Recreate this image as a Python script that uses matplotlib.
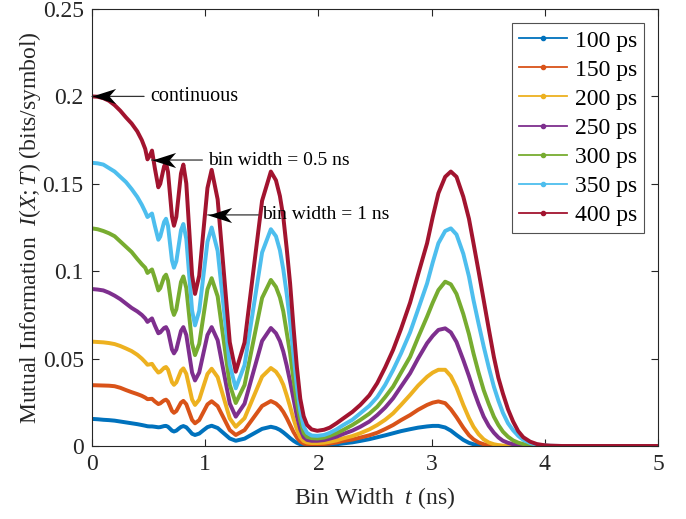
import matplotlib
matplotlib.use("Agg")
import matplotlib.pyplot as plt
from matplotlib.lines import Line2D
from matplotlib.path import Path

# ---------------- data ----------------
t_ns = [0.00, 0.05, 0.10, 0.15, 0.20, 0.25, 0.30, 0.35, 0.40, 0.44, 0.47, 0.49, 0.51, 0.53, 0.555, 0.586,
        0.603, 0.620, 0.637, 0.654, 0.6715, 0.689, 0.7065, 0.724, 0.745, 0.7655, 0.786, 0.807, 0.833, 0.8585, 0.884, 0.91,
        0.947, 0.9835, 1.02, 1.057, 1.11, 1.1635, 1.217, 1.27, 1.3475, 1.425, 1.5025, 1.58,
        1.625, 1.66, 1.69, 1.72, 1.75, 1.78, 1.81, 1.84, 1.87, 1.90, 1.94, 1.99,
        2.05, 2.10, 2.16, 2.22, 2.30, 2.37, 2.45, 2.52, 2.59, 2.66, 2.73, 2.81, 2.88, 2.96, 3.01, 3.06, 3.12, 3.17,
        3.22, 3.28, 3.33, 3.37, 3.415, 3.46, 3.505, 3.55, 3.59, 3.63, 3.675, 3.72, 3.765, 3.81, 3.87, 3.93, 4.00, 4.05, 4.15, 5.00]

mi_400ps = [0.200, 0.1998, 0.199, 0.1975, 0.195, 0.1918, 0.188, 0.1845, 0.180, 0.175, 0.170, 0.164, 0.166, 0.169, 0.159, 0.148,
            0.150, 0.155, 0.160, 0.162, 0.1567, 0.144, 0.1313, 0.126, 0.1311, 0.1435, 0.1559, 0.161, 0.1502, 0.124, 0.0978, 0.087,
            0.0974, 0.1225, 0.1476, 0.158, 0.1411, 0.1003, 0.0594, 0.0425, 0.0592, 0.0998, 0.1403, 0.157,
            0.152, 0.143, 0.131, 0.113, 0.093, 0.068, 0.045, 0.027, 0.017, 0.012, 0.0095, 0.0087,
            0.0093, 0.0105, 0.013, 0.0158, 0.0195, 0.0235, 0.029, 0.036, 0.045, 0.055, 0.067, 0.082, 0.098, 0.116, 0.131, 0.1446, 0.154, 0.157,
            0.154, 0.1426, 0.130, 0.116, 0.100, 0.0835, 0.067, 0.051, 0.039, 0.030, 0.021, 0.014, 0.0085, 0.005, 0.0025, 0.0011, 0.0004, 0.0002, 0.0, 0.0]

mi_350ps = [0.162, 0.1617, 0.161, 0.159, 0.157, 0.154, 0.151, 0.147, 0.1425, 0.138, 0.134, 0.131, 0.132, 0.133, 0.126, 0.118,
            0.1198, 0.124, 0.1282, 0.130, 0.1259, 0.116, 0.1061, 0.102, 0.1057, 0.1145, 0.1234, 0.127, 0.1185, 0.098, 0.0775, 0.069,
            0.0772, 0.097, 0.1168, 0.125, 0.1116, 0.079, 0.0464, 0.033, 0.0463, 0.0785, 0.1107, 0.124,
            0.120, 0.112, 0.101, 0.087, 0.071, 0.052, 0.034, 0.020, 0.011, 0.0075, 0.006, 0.0058,
            0.0063, 0.0075, 0.0095, 0.012, 0.015, 0.0187, 0.023, 0.028, 0.035, 0.0435, 0.053, 0.065, 0.078, 0.093, 0.105, 0.116, 0.123, 0.1245,
            0.121, 0.110, 0.097, 0.0835, 0.070, 0.057, 0.045, 0.034, 0.026, 0.019, 0.013, 0.009, 0.0058, 0.0035, 0.0017, 0.0007, 0.0003, 0.0001, 0.0, 0.0]

mi_300ps = [0.1245, 0.124, 0.123, 0.1217, 0.120, 0.117, 0.114, 0.111, 0.107, 0.104, 0.102, 0.099, 0.100, 0.101, 0.096, 0.089,
            0.0903, 0.0935, 0.0967, 0.098, 0.0946, 0.0865, 0.0784, 0.075, 0.0782, 0.086, 0.0938, 0.097, 0.0904, 0.0745, 0.0586, 0.052,
            0.0584, 0.074, 0.0896, 0.096, 0.0856, 0.0603, 0.035, 0.0246, 0.0349, 0.0598, 0.0847, 0.095,
            0.091, 0.085, 0.077, 0.065, 0.053, 0.038, 0.025, 0.0145, 0.0075, 0.0052, 0.0045, 0.0043,
            0.0048, 0.0058, 0.0073, 0.0092, 0.012, 0.0149, 0.0185, 0.0225, 0.028, 0.034, 0.042, 0.051, 0.062, 0.074, 0.082, 0.0892, 0.094, 0.0925,
            0.087, 0.0755, 0.064, 0.053, 0.042, 0.032, 0.024, 0.0168, 0.012, 0.0082, 0.0053, 0.0032, 0.0019, 0.0011, 0.0005, 0.0002, 0.0001, 0.0, 0.0, 0.0]

mi_250ps = [0.0898, 0.0895, 0.089, 0.0877, 0.086, 0.084, 0.0815, 0.079, 0.077, 0.075, 0.073, 0.071, 0.072, 0.073, 0.069, 0.0645,
            0.065, 0.0663, 0.0675, 0.068, 0.0658, 0.0605, 0.0552, 0.053, 0.0552, 0.0605, 0.0658, 0.068, 0.0635, 0.0528, 0.042, 0.0375,
            0.042, 0.0528, 0.0635, 0.068, 0.0605, 0.0424, 0.0243, 0.0168, 0.0242, 0.0422, 0.0601, 0.0675,
            0.0645, 0.060, 0.054, 0.046, 0.037, 0.027, 0.017, 0.0095, 0.005, 0.0035, 0.003, 0.003,
            0.0034, 0.0042, 0.0053, 0.0069, 0.0088, 0.011, 0.014, 0.0177, 0.022, 0.0273, 0.034, 0.0416, 0.050, 0.0588, 0.063, 0.0664, 0.0673, 0.065,
            0.0595, 0.0492, 0.040, 0.032, 0.024, 0.0168, 0.0115, 0.0076, 0.0049, 0.003, 0.0018, 0.001, 0.0005, 0.0002, 0.0001, 0.0, 0.0, 0.0, 0.0, 0.0]

mi_200ps = [0.0597, 0.0595, 0.0593, 0.0589, 0.0583, 0.0572, 0.0558, 0.0543, 0.0522, 0.050, 0.048, 0.0465, 0.0467, 0.047, 0.0445, 0.042,
            0.0425, 0.0436, 0.0447, 0.0452, 0.0437, 0.0401, 0.0365, 0.035, 0.0364, 0.0397, 0.043, 0.0444, 0.0413, 0.034, 0.0266, 0.0235,
            0.0265, 0.0339, 0.0412, 0.0442, 0.0394, 0.0276, 0.0158, 0.011, 0.0159, 0.0278, 0.0397, 0.0446,
            0.0425, 0.0392, 0.035, 0.029, 0.0225, 0.0155, 0.0095, 0.005, 0.0028, 0.002, 0.0017, 0.0017,
            0.0019, 0.0024, 0.0032, 0.0044, 0.0057, 0.0073, 0.0095, 0.012, 0.015, 0.0187, 0.0235, 0.0292, 0.0345, 0.0396, 0.042, 0.0436, 0.0436, 0.040,
            0.0335, 0.0235, 0.016, 0.011, 0.0068, 0.0038, 0.002, 0.001, 0.0005, 0.0002, 0.0001, 0.0, 0.0, 0.0, 0.0, 0.0, 0.0, 0.0, 0.0, 0.0]

mi_150ps = [0.0348, 0.0347, 0.0346, 0.0345, 0.0342, 0.0333, 0.032, 0.0308, 0.0297, 0.0287, 0.0277, 0.0268, 0.0269, 0.027, 0.0255, 0.024,
            0.0244, 0.0253, 0.0261, 0.0265, 0.0254, 0.0228, 0.0201, 0.019, 0.020, 0.0224, 0.0248, 0.0258, 0.0239, 0.0194, 0.0149, 0.013,
            0.0148, 0.0193, 0.0238, 0.0256, 0.0228, 0.016, 0.0091, 0.0063, 0.0091, 0.016, 0.0229, 0.0257,
            0.0243, 0.0222, 0.0195, 0.016, 0.012, 0.008, 0.0048, 0.0026, 0.0014, 0.001, 0.0009, 0.0009,
            0.0011, 0.0014, 0.002, 0.0029, 0.0037, 0.0048, 0.0061, 0.0076, 0.0097, 0.012, 0.0148, 0.0177, 0.0207, 0.0235, 0.0248, 0.0255, 0.0245, 0.021,
            0.0165, 0.0105, 0.0062, 0.0038, 0.002, 0.001, 0.0005, 0.0002, 0.0001, 0.0, 0.0, 0.0, 0.0, 0.0, 0.0, 0.0, 0.0, 0.0, 0.0, 0.0]

mi_100ps = [0.0155, 0.0153, 0.015, 0.0148, 0.0145, 0.014, 0.0135, 0.013, 0.0125, 0.012, 0.0116, 0.0113, 0.0112, 0.0112, 0.011, 0.0107,
            0.0108, 0.0111, 0.0114, 0.0115, 0.011, 0.0099, 0.0088, 0.0083, 0.0088, 0.0099, 0.0109, 0.0114, 0.0107, 0.0089, 0.007, 0.0063,
            0.0071, 0.009, 0.0108, 0.0116, 0.0103, 0.0073, 0.0043, 0.003, 0.0042, 0.007, 0.0098, 0.011,
            0.0103, 0.0092, 0.0078, 0.0062, 0.0045, 0.003, 0.0018, 0.001, 0.0006, 0.0004, 0.0003, 0.0003,
            0.0004, 0.0006, 0.001, 0.0015, 0.0021, 0.0029, 0.0039, 0.005, 0.0061, 0.0073, 0.0085, 0.0096, 0.0105, 0.0112, 0.0115, 0.0115, 0.0106, 0.0088,
            0.0063, 0.0035, 0.0018, 0.001, 0.0005, 0.0002, 0.0001, 0.0, 0.0, 0.0, 0.0, 0.0, 0.0, 0.0, 0.0, 0.0, 0.0, 0.0, 0.0, 0.0]

series = [mi_100ps, mi_150ps, mi_200ps, mi_250ps, mi_300ps, mi_350ps, mi_400ps]
labels = ["100 ps", "150 ps", "200 ps", "250 ps", "300 ps", "350 ps", "400 ps"]
colors = ["#0072BD", "#D95319", "#EDB120", "#7E2F8E", "#77AC30", "#4DBEEE", "#A2142F"]

x_ticks = [0, 1, 2, 3, 4, 5]
y_ticks = [0, 0.05, 0.10, 0.15, 0.20, 0.25]
y_tick_labels = ["0", "0.05", "0.1", "0.15", "0.2", "0.25"]

# annotation texts, arrow tips (t, I) and tails
notes = ["continuous", "bin width = 0.5 ns", "bin width = 1 ns"]
note_tip_t = [0.0, 0.527, 1.022]
note_tip_v = [0.2, 0.1636, 0.1322]
note_tail_t = [0.46, 0.975, 1.47]
note_text_t = [0.512, 1.025, 1.505]
note_size = [14.5, 14, 14]

# ---------------- style ----------------
plt.rcParams["font.family"] = ["Liberation Serif", "DejaVu Serif"]
plt.rcParams["mathtext.fontset"] = "custom"
plt.rcParams["mathtext.rm"] = "Liberation Serif"
plt.rcParams["mathtext.it"] = "Liberation Serif:italic"

axc = "#262626"
fig = plt.figure(figsize=(6.86, 5.19), dpi=100)
ax = fig.add_axes([92 / 686, 1 - 446 / 519, 566 / 686, 437 / 519])

for vals, c in zip(series, colors):
    n = min(len(t_ns), len(vals))
    ax.plot(t_ns[:n], vals[:n], color=c, lw=2.85, solid_joinstyle="round", solid_capstyle="round")

ax.set_xlim(0, 5)
ax.set_ylim(0, 0.25)
ax.set_xticks(x_ticks)
ax.set_yticks(y_ticks)
ax.set_yticklabels(y_tick_labels)
ax.tick_params(direction="in", top=True, right=True, length=5, width=0.8,
               labelsize=17, colors=axc, pad=6)
for s in ax.spines.values():
    s.set_color(axc)
    s.set_linewidth(0.8)

ax.set_xlabel("Bin Width  $t$ (ns)", fontsize=17, color=axc, labelpad=7)
ax.set_ylabel(r"Mutual Information  $\mathit{I(X;T)}$ (bits/symbol)", fontsize=17,
              color=axc, labelpad=0)

# annotations: thin line + notched (vback) arrow head
head = Path([(0, 0), (1, 0.32), (0.72, 0), (1, -0.32), (0, 0)],
            [Path.MOVETO, Path.LINETO, Path.LINETO, Path.LINETO, Path.CLOSEPOLY])
for txt, tt, tv, tl, tx, fs in zip(notes, note_tip_t, note_tip_v, note_tail_t, note_text_t, note_size):
    ax.annotate("", xy=(tt, tv), xytext=(tl, tv),
                arrowprops=dict(arrowstyle="-", color="0.2", lw=0.9, shrinkA=0, shrinkB=0),
                annotation_clip=False)
    ax.plot([tt], [tv], linestyle="none", marker=head, markersize=34, color="black",
            markeredgewidth=0, clip_on=False, zorder=5)
    ax.text(tx, tv, txt, fontsize=fs, va="center", ha="left")

handles = [Line2D([0], [0], color=c, lw=1.3, marker=".", markersize=6) for c in colors]
leg = ax.legend(handles, labels, loc="upper right", bbox_to_anchor=(0.975, 0.968),
                borderaxespad=0, fontsize=17, frameon=True, fancybox=False,
                handlelength=2.05, handletextpad=0.3, labelspacing=0.32,
                borderpad=0.3)
leg.get_frame().set_edgecolor(axc)
leg.get_frame().set_linewidth(0.8)

fig.savefig("out.png", dpi=100)
